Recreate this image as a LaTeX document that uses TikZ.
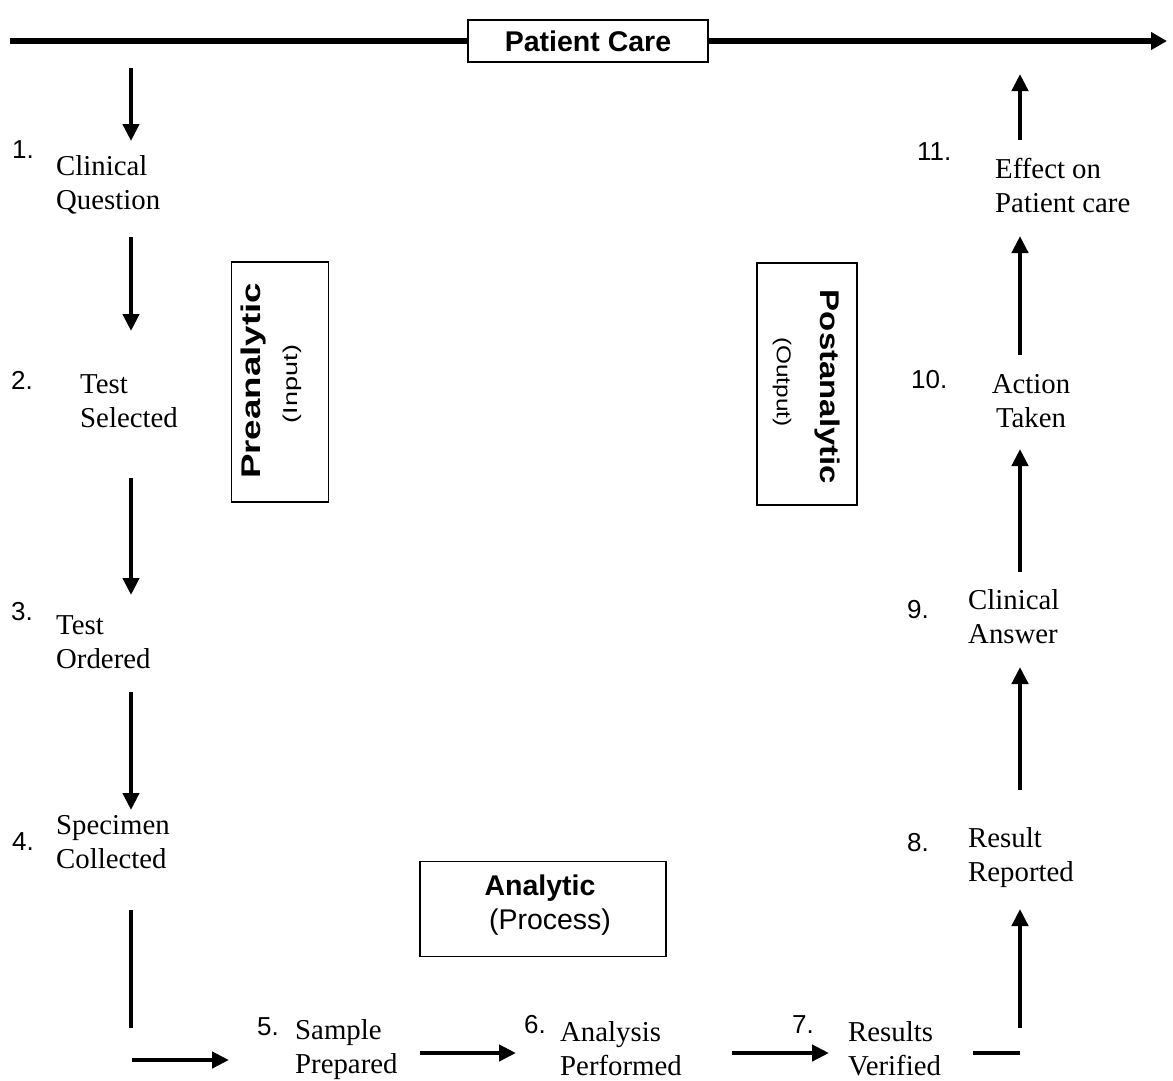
\documentclass[tikz,border=0pt]{standalone}
\usepackage{fontspec}
\setmainfont{Liberation Serif}
\newfontfamily\arialf{Liberation Sans}
\usetikzlibrary{arrows.meta}
\tikzset{
  flow/.style={line width=4.6pt,-{Triangle[length=17pt,width=16pt]}},
  flowline/.style={line width=4.6pt},
  lbl/.style={inner sep=0pt,align=left,anchor=west,font=\fontsize{28.8}{34}\selectfont},
  num/.style={inner sep=0pt,anchor=base west,font=\arialf\fontsize{26}{28}\selectfont},
  phasebox/.style={draw,line width=1.8pt},
}
\begin{document}
\begin{tikzpicture}[x=1pt,y=-1pt]
\useasboundingbox (0,0) rectangle (1173,1081);
\fill[white] (0,0) rectangle (1173,1081);
% top bar
\node[phasebox,minimum width=240pt,minimum height=42pt,inner sep=0pt,font=\arialf\bfseries\fontsize{28.5}{30}\selectfont] (pc) at (588,41) {Patient Care};
\coordinate (tl) at (10,41);
\coordinate (tr) at (1167,41);
\draw[line width=5.5pt] (tl) -- (pc.west);
\draw[line width=5.5pt,-{Triangle[length=16pt,width=17pt]}] (pc.east) -- (tr);
% phase boxes
\node[phasebox,minimum width=97pt,minimum height=240pt,inner sep=0pt] (pre) at (280,382) {};
\node[inner sep=0pt,rotate=90,font=\arialf\bfseries\fontsize{27}{28}\selectfont] (pret) at (254,381) {\scalebox{1.36}[1]{Preanalytic}};
\node[inner sep=0pt,rotate=90,font=\arialf\fontsize{20}{22}\selectfont] (prei) at (292,384) {\scalebox{1.35}[1]{(Input)}};
\node[phasebox,minimum width=100pt,minimum height=242pt,inner sep=0pt] (post) at (807,384) {};
\node[inner sep=0pt,rotate=-90,font=\arialf\bfseries\fontsize{27}{28}\selectfont] (postt) at (827,387) {\scalebox{1.22}[1]{Postanalytic}};
\node[inner sep=0pt,rotate=-90,font=\arialf\fontsize{20}{22}\selectfont] (posto) at (782,382) {\scalebox{1.22}[1]{(Output)}};
\node[phasebox,minimum width=246pt,minimum height=95pt,inner sep=0pt] (ana) at (543,909) {};
\node[inner sep=0pt,font=\arialf\bfseries\fontsize{28.5}{30}\selectfont] (anat) at (540,888) {Analytic};
\node[inner sep=0pt,font=\arialf\fontsize{28.5}{30}\selectfont] (anap) at (550,922) {(Process)};
% numbers
\node[num] (n1) at (12,158) {1.};
\node[num] (n2) at (11,389) {2.};
\node[num] (n3) at (11,620) {3.};
\node[num] (n4) at (12,850) {4.};
\node[num] (n5) at (257,1035) {5.};
\node[num] (n6) at (524,1033) {6.};
\node[num] (n7) at (792,1033) {7.};
\node[num] (n8) at (907,851) {8.};
\node[num] (n9) at (907,618) {9.};
\node[num] (n10) at (911,388) {10.};
\node[num] (n11) at (917,160) {11.};
% step labels
\node[lbl] (s1) at (56,185) {Clinical\\Question};
\node[lbl] (s2) at (80,401) {Test\\Selected};
\node[lbl] (s3) at (56,642) {Test\\Ordered};
\node[lbl] (s4) at (56,842) {Specimen\\Collected};
\node[lbl] (s5) at (295,1050) {Sample\\Prepared};
\node[lbl] (s6) at (560,1049) {Analysis\\Performed};
\node[lbl] (s7) at (848,1049) {Results\\Verified};
\node[lbl] (s8) at (968,858) {Result\\Reported};
\node[lbl] (s9) at (968,617) {Clinical\\Answer};
\node[lbl,align=center,anchor=center] (s10) at (1031,401) {Action\\Taken};
\node[lbl] (s11) at (995,186) {Effect on\\Patient care};
% connector end points
\coordinate (a1s) at (131,68);   \coordinate (a1e) at (131,141);
\coordinate (a2s) at (131,237);  \coordinate (a2e) at (131,331);
\coordinate (a3s) at (131,478);  \coordinate (a3e) at (131,595);
\coordinate (a4s) at (131,692);  \coordinate (a4e) at (131,810);
\coordinate (l1s) at (131,910);  \coordinate (l1e) at (131,1028);
\coordinate (h1s) at (132,1060); \coordinate (h1e) at (229,1060);
\coordinate (h2s) at (420,1053); \coordinate (h2e) at (516,1053);
\coordinate (h3s) at (732,1053); \coordinate (h3e) at (829,1053);
\coordinate (l2s) at (973,1053); \coordinate (l2e) at (1020,1053);
\coordinate (u1s) at (1020,1028); \coordinate (u1e) at (1020,909);
\coordinate (u2s) at (1020,790);  \coordinate (u2e) at (1020,667);
\coordinate (u3s) at (1020,572);  \coordinate (u3e) at (1020,449);
\coordinate (u4s) at (1020,355);  \coordinate (u4e) at (1020,236);
\coordinate (u5s) at (1020,140);  \coordinate (u5e) at (1020,74);
% connectors
\draw[flow] (a1s) -- (a1e);
\draw[flow] (a2s) -- (a2e);
\draw[flow] (a3s) -- (a3e);
\draw[flow] (a4s) -- (a4e);
\draw[flowline] (l1s) -- (l1e);
\draw[flow] (h1s) -- (h1e);
\draw[flow] (h2s) -- (h2e);
\draw[flow] (h3s) -- (h3e);
\draw[flowline] (l2s) -- (l2e);
\draw[flow] (u1s) -- (u1e);
\draw[flow] (u2s) -- (u2e);
\draw[flow] (u3s) -- (u3e);
\draw[flow] (u4s) -- (u4e);
\draw[flow] (u5s) -- (u5e);
\end{tikzpicture}
\end{document}
